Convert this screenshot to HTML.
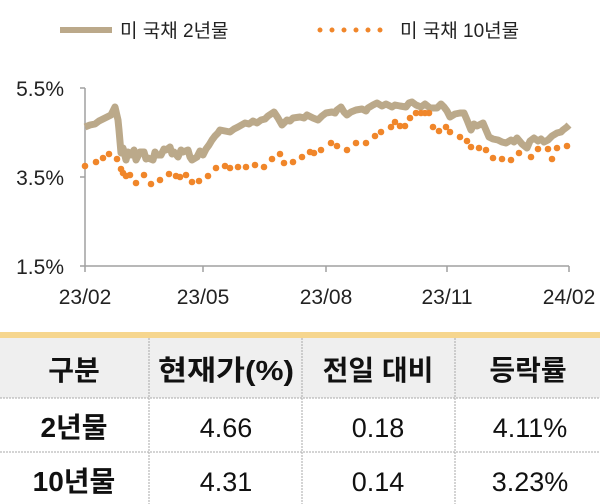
<!DOCTYPE html>
<html><head><meta charset="utf-8"><style>
body{margin:0;width:600px;height:504px;background:#fff;overflow:hidden;font-family:"Liberation Sans","Noto Sans CJK KR",sans-serif;}
</style></head><body>
<svg width="600" height="504" xmlns="http://www.w3.org/2000/svg" style="position:absolute;left:0;top:0">
<g font-family="Liberation Sans, Noto Sans CJK KR, sans-serif" fill="#222">
<line x1="60" y1="30" x2="112" y2="30" stroke="#bba98a" stroke-width="6"/>
<text x="120" y="37" font-size="19">미 국채 2년물</text>
<line x1="320" y1="30" x2="392" y2="30" stroke="#f0862a" stroke-width="5" stroke-linecap="round" stroke-dasharray="0 12"/>
<text x="400" y="37" font-size="19">미 국채 10년물</text>
<text x="64" y="96" font-size="21" text-anchor="end">5.5%</text>
<text x="64" y="185" font-size="21" text-anchor="end">3.5%</text>
<text x="64" y="274" font-size="21" text-anchor="end">1.5%</text>
<text x="85" y="304" font-size="21" text-anchor="middle">23/02</text>
<text x="203" y="304" font-size="21" text-anchor="middle">23/05</text>
<text x="326" y="304" font-size="21" text-anchor="middle">23/08</text>
<text x="447" y="304" font-size="21" text-anchor="middle">23/11</text>
<text x="569" y="304" font-size="21" text-anchor="middle">24/02</text>
</g>
<g stroke="#a0a0a0" stroke-width="1.5">
<line x1="85" y1="88" x2="85" y2="266"/>
<line x1="80" y1="88" x2="85" y2="88"/><line x1="80" y1="177" x2="85" y2="177"/><line x1="80" y1="266" x2="85" y2="266"/>
<line x1="85" y1="266" x2="569" y2="266"/>
<line x1="85" y1="266" x2="85" y2="272"/><line x1="203" y1="266" x2="203" y2="272"/><line x1="326" y1="266" x2="326" y2="272"/><line x1="447" y1="266" x2="447" y2="272"/><line x1="569" y1="266" x2="569" y2="272"/>
</g>
<polyline fill="none" stroke="#bba98a" stroke-width="7" stroke-linejoin="round" points="85,127 90,125 95,124 99,121 103,119 107,117 111,115 115,107 118,120 119,130 121,153 123,148 126,160 128,152 131,155 134,150 136,160 138,156 140,152 144,152 146,159 148,158 153,160 155,152 157,155 161,155 164,149 166,150 170,147 172,154 174,152 178,157 181,150 183,152 188,150 190,157 192,160 197,157 200,151 203,155 206,149 209,145 212,140 215,136 218,133 220,130 225,131 230,132 234,129 238,127 245,123 249,124 253,121 257,123 261,120 265,119 268,116 271,114 274,112 278,118 282,125 287,120 290,121 293,118 300,117 304,118 307,115 313,118 318,120 322,116 326,113 332,112 335,113 337,110 341,107 344,112 347,115 351,112 356,110 362,109 366,111 368,108 373,105 377,103 382,106 386,104 392,107 395,105 400,106 406,107 409,103 412,102 416,105 421,107 425,104 430,108 437,108 441,104 444,107 447,111 450,117 455,114 460,113 464,113 467,120 471,130 474,124 477,126 483,123 486,130 489,137 493,139 498,140 502,142 506,143 511,140 514,142 517,138 522,144 527,148 530,141 534,138 538,141 541,139 544,142 548,140 552,136 557,133 561,132 563,130 567,127 569,125"/>
<g fill="#f0862a">
<circle cx="85" cy="166" r="3.3"/><circle cx="96" cy="162" r="3.3"/><circle cx="103" cy="158" r="3.3"/><circle cx="109" cy="154" r="3.3"/><circle cx="117" cy="159" r="3.3"/><circle cx="121" cy="169" r="3.3"/><circle cx="123" cy="173" r="3.3"/><circle cx="126" cy="176" r="3.3"/><circle cx="130" cy="175" r="3.3"/><circle cx="136" cy="183" r="3.3"/><circle cx="144" cy="175" r="3.3"/><circle cx="151" cy="184" r="3.3"/><circle cx="160" cy="180" r="3.3"/><circle cx="169" cy="174" r="3.3"/><circle cx="176" cy="176" r="3.3"/><circle cx="180" cy="177" r="3.3"/><circle cx="186" cy="175" r="3.3"/><circle cx="192" cy="182" r="3.3"/><circle cx="199" cy="181" r="3.3"/><circle cx="208" cy="176" r="3.3"/><circle cx="216" cy="168" r="3.3"/><circle cx="225" cy="166" r="3.3"/><circle cx="230" cy="168" r="3.3"/><circle cx="238" cy="167" r="3.3"/><circle cx="246" cy="167" r="3.3"/><circle cx="255" cy="165" r="3.3"/><circle cx="264" cy="167" r="3.3"/><circle cx="272" cy="159" r="3.3"/><circle cx="280" cy="154" r="3.3"/><circle cx="284" cy="163" r="3.3"/><circle cx="293" cy="162" r="3.3"/><circle cx="302" cy="157" r="3.3"/><circle cx="310" cy="152" r="3.3"/><circle cx="314" cy="153" r="3.3"/><circle cx="321" cy="150" r="3.3"/><circle cx="331" cy="143" r="3.3"/><circle cx="337" cy="146" r="3.3"/><circle cx="347" cy="150" r="3.3"/><circle cx="356" cy="143" r="3.3"/><circle cx="366" cy="143" r="3.3"/><circle cx="375" cy="136" r="3.3"/><circle cx="381" cy="132" r="3.3"/><circle cx="391" cy="127" r="3.3"/><circle cx="395" cy="122" r="3.3"/><circle cx="400" cy="126" r="3.3"/><circle cx="405" cy="126" r="3.3"/><circle cx="410" cy="118" r="3.3"/><circle cx="416" cy="113" r="3.3"/><circle cx="421" cy="113" r="3.3"/><circle cx="425" cy="113" r="3.3"/><circle cx="429" cy="113" r="3.3"/><circle cx="433" cy="127" r="3.3"/><circle cx="439" cy="131" r="3.3"/><circle cx="446" cy="127" r="3.3"/><circle cx="450" cy="132" r="3.3"/><circle cx="460" cy="137" r="3.3"/><circle cx="467" cy="141" r="3.3"/><circle cx="471" cy="147" r="3.3"/><circle cx="479" cy="148" r="3.3"/><circle cx="486" cy="150" r="3.3"/><circle cx="493" cy="158" r="3.3"/><circle cx="502" cy="159" r="3.3"/><circle cx="511" cy="160" r="3.3"/><circle cx="519" cy="153" r="3.3"/><circle cx="531" cy="157" r="3.3"/><circle cx="538" cy="149" r="3.3"/><circle cx="548" cy="149" r="3.3"/><circle cx="552" cy="159" r="3.3"/><circle cx="557" cy="148" r="3.3"/><circle cx="567" cy="146" r="3.3"/>
</g>
<rect x="0" y="332" width="600" height="6" fill="#f6d68e"/>
<rect x="0" y="338" width="600" height="60" fill="#efefef"/>
<g stroke="#aaa" stroke-width="1" stroke-dasharray="2 1">
<line x1="0" y1="398" x2="600" y2="398"/><line x1="0" y1="452" x2="600" y2="452"/>
<line x1="149" y1="338" x2="149" y2="504"/><line x1="302" y1="338" x2="302" y2="504"/><line x1="455" y1="338" x2="455" y2="504"/>
</g>
<g font-family="Liberation Sans, Noto Sans CJK KR, sans-serif" fill="#111" text-anchor="middle">
<g font-size="28" font-weight="bold">
<text x="74" y="380">구분</text><text x="226" y="380" textLength="136" lengthAdjust="spacingAndGlyphs">현재가(%)</text><text x="378" y="380">전일 대비</text><text x="528" y="380">등락률</text>
<text x="74" y="437">2년물</text><text x="74" y="491">10년물</text>
</g>
<g font-size="27">
<text x="226" y="437">4.66</text><text x="378" y="437">0.18</text><text x="530" y="437">4.11%</text>
<text x="226" y="491">4.31</text><text x="378" y="491">0.14</text><text x="530" y="491">3.23%</text>
</g>
</g>
</svg>
</body></html>
